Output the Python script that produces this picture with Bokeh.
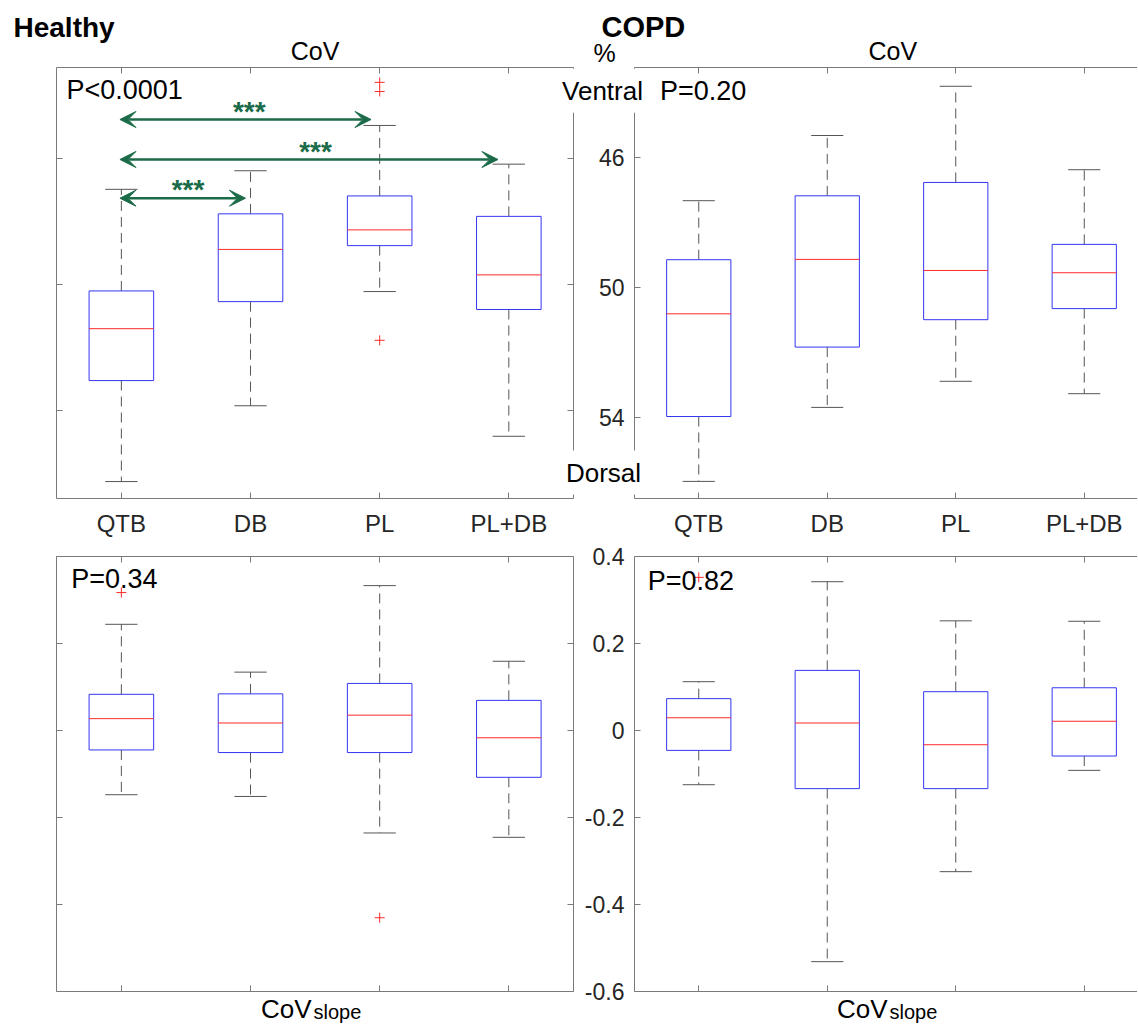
import numpy as np
from bokeh.plotting import figure
from bokeh.models import Range1d, FixedTicker, LinearAxis, Label, Arrow, VeeHead, Grid
from bokeh.layouts import column, row
from bokeh.embed import file_html
from bokeh.resources import INLINE

# ---------------- data ----------------
categories = ["QTB", "DB", "PL", "PL+DB"]

# Healthy, CoV (%)  (box statistics per category)
healthy_cov_min = [46.97, 46.38, 44.94, 46.17]
healthy_cov_q1 = [50.20, 47.75, 47.18, 47.83]
healthy_cov_med = [51.40, 48.88, 48.26, 49.69]
healthy_cov_q3 = [53.05, 50.54, 48.76, 50.79]
healthy_cov_max = [56.26, 53.85, 50.22, 54.82]
healthy_cov_out_cat = ["PL", "PL", "PL"]
healthy_cov_out_val = [43.57, 43.86, 51.77]

# COPD, CoV (%)
copd_cov_min = [47.34, 45.34, 43.83, 46.39]
copd_cov_q1 = [49.15, 47.19, 46.78, 48.68]
copd_cov_med = [50.81, 49.14, 49.48, 49.55]
copd_cov_q3 = [53.96, 51.83, 50.99, 50.65]
copd_cov_max = [55.95, 53.68, 52.88, 53.26]
copd_cov_out_cat = []
copd_cov_out_val = []

# Healthy, CoV slope
healthy_slope_min = [-0.148, -0.152, -0.236, -0.246]
healthy_slope_q1 = [-0.045, -0.051, -0.051, -0.108]
healthy_slope_med = [0.027, 0.017, 0.035, -0.017]
healthy_slope_q3 = [0.083, 0.084, 0.108, 0.069]
healthy_slope_max = [0.244, 0.134, 0.333, 0.159]
healthy_slope_out_cat = ["QTB", "PL"]
healthy_slope_out_val = [0.317, -0.431]

# COPD, CoV slope
copd_slope_min = [-0.125, -0.532, -0.325, -0.092]
copd_slope_q1 = [-0.046, -0.134, -0.134, -0.059]
copd_slope_med = [0.029, 0.017, -0.033, 0.021]
copd_slope_q3 = [0.073, 0.138, 0.089, 0.098]
copd_slope_max = [0.112, 0.342, 0.252, 0.251]
copd_slope_out_cat = ["QTB"]
copd_slope_out_val = [0.352]

p_values = ["P<0.0001", "P=0.20", "P=0.34", "P=0.82"]

sig_from = ["QTB", "QTB", "QTB"]
sig_to = ["PL", "PL+DB", "DB"]
sig_text = ["***", "***", "***"]

cov_ticks = [46, 50, 54]
cov_tick_labels = ["46", "50", "54"]
slope_ticks = [-0.6, -0.4, -0.2, 0, 0.2, 0.4]
slope_tick_labels = ["-0.6", "-0.4", "-0.2", "0", "0.2", "0.4"]

# ---------------- style ----------------
FONT = "Liberation Sans"
AX = "#7a7a7a"
TXT = "#262626"
BOX = "#3535f2"
MED = "#ff2a2a"
WHISK = "#555555"
GREEN = "#1b6b48"

cat_pos = list(range(1, len(categories) + 1))


def style_axis(ax, ticks, labels=None, size="23px", standoff=0):
    ax.ticker = FixedTicker(ticks=ticks, minor_ticks=[])
    ax.axis_line_color = AX
    ax.major_tick_line_color = AX
    ax.minor_tick_line_color = None
    ax.major_tick_in = 6
    ax.major_tick_out = 0
    ax.major_label_standoff = standoff
    ax.major_label_text_font = FONT
    ax.major_label_text_font_size = size
    if labels is not None:
        ax.major_label_overrides = dict(zip(ticks, labels))
        ax.major_label_text_color = TXT
    else:
        ax.major_label_text_color = None


def add_axis(p, side, loc, bounds, ticks, labels=None, size="23px", standoff=0):
    ax = LinearAxis(fixed_location=loc, bounds=bounds)
    style_axis(ax, ticks, labels, size, standoff)
    p.add_layout(ax, side)


def make_canvas(xr, yr, width, height, transparent):
    p = figure(width=width, height=height, x_range=Range1d(*xr), y_range=Range1d(*yr),
               output_backend="svg", toolbar_location=None, min_border=0,
               x_axis_location=None, y_axis_location=None)
    for g in p.select(type=Grid):
        g.visible = False
    p.outline_line_color = None
    if transparent:
        p.background_fill_alpha = 0
        p.border_fill_alpha = 0
    else:
        p.background_fill_color = "white"
        p.border_fill_color = "white"
    return p


def draw_boxes(p, vmin, q1, med, q3, vmax, out_cat, out_val):
    x = np.array(cat_pos, dtype=float)
    p.segment(x0=x, y0=q3, x1=x, y1=vmax, line_color=WHISK, line_width=1, line_dash="10 6")
    p.segment(x0=x, y0=q1, x1=x, y1=vmin, line_color=WHISK, line_width=1, line_dash="10 6")
    p.segment(x0=x - 0.125, y0=vmax, x1=x + 0.125, y1=vmax, line_color=WHISK, line_width=1)
    p.segment(x0=x - 0.125, y0=vmin, x1=x + 0.125, y1=vmin, line_color=WHISK, line_width=1)
    p.vbar(x=x, width=0.5, bottom=q1, top=q3, fill_color="white", line_color=BOX, line_width=1)
    p.segment(x0=x - 0.25, y0=med, x1=x + 0.25, y1=med, line_color=MED, line_width=1)
    if out_cat:
        ox = [categories.index(c) + 1 for c in out_cat]
        p.scatter(x=ox, y=out_val, marker="cross", size=10, line_color=MED, line_width=1)


def add_text(p, x, y, text, size, bold=False, align="left", color="black", bg=None):
    kw = {}
    if bg is not None:
        kw = dict(background_fill_color=bg, padding=7)
    p.add_layout(Label(x=x, y=y, text=text, text_font=FONT, text_font_size=f"{size}px",
                       text_font_style="bold" if bold else "normal", text_align=align,
                       text_baseline="alphabetic", text_color=color, **kw))


# ---------------- panels (each canvas is one full frame; box drawn with fixed axes) ----
# Healthy / CoV
tl = make_canvas((0.0641, 4.5627), (58.133, 40.968), 581, 540, False)
tl_box = (0.5, 4.5, 43.088, 56.80)
add_axis(tl, "left", tl_box[0], (tl_box[2], tl_box[3]), cov_ticks)
add_axis(tl, "right", tl_box[1], (tl_box[2], tl_box[3]), cov_ticks)
add_axis(tl, "above", tl_box[2], (tl_box[0], tl_box[1]), cat_pos)
add_axis(tl, "below", tl_box[3], (tl_box[0], tl_box[1]), cat_pos, categories, "24px", 11)

# COPD / CoV
tr = make_canvas((-0.1304, 4.4144), (57.763, 41.199), 584, 540, True)
tr_box = (0.5, 4.4144, 43.243, 56.475)
add_axis(tr, "left", tr_box[0], (tr_box[2], tr_box[3]), cov_ticks, cov_tick_labels, "23px", 10)
add_axis(tr, "above", tr_box[2], (tr_box[0], tr_box[1]), cat_pos)
add_axis(tr, "below", tr_box[3], (tr_box[0], tr_box[1]), cat_pos, categories, "24px", 11)

# Healthy / CoV slope
bl = make_canvas((0.0641, 4.5627), (-0.6812, 0.4368), 581, 486, False)
bl_box = (0.5, 4.5, -0.6, 0.4)
add_axis(bl, "left", bl_box[0], (bl_box[2], bl_box[3]), slope_ticks)
add_axis(bl, "right", bl_box[1], (bl_box[2], bl_box[3]), slope_ticks)
add_axis(bl, "above", bl_box[3], (bl_box[0], bl_box[1]), cat_pos)
add_axis(bl, "below", bl_box[2], (bl_box[0], bl_box[1]), cat_pos)

# COPD / CoV slope
br = make_canvas((-0.1304, 4.4144), (-0.6812, 0.4368), 584, 486, True)
br_box = (0.5, 4.4144, -0.6, 0.4)
add_axis(br, "left", br_box[0], (br_box[2], br_box[3]), slope_ticks, slope_tick_labels, "23px", 10)
add_axis(br, "above", br_box[3], (br_box[0], br_box[1]), cat_pos)
add_axis(br, "below", br_box[2], (br_box[0], br_box[1]), cat_pos)

draw_boxes(tl, healthy_cov_min, healthy_cov_q1, healthy_cov_med, healthy_cov_q3, healthy_cov_max,
           healthy_cov_out_cat, healthy_cov_out_val)
draw_boxes(tr, copd_cov_min, copd_cov_q1, copd_cov_med, copd_cov_q3, copd_cov_max,
           copd_cov_out_cat, copd_cov_out_val)
draw_boxes(bl, healthy_slope_min, healthy_slope_q1, healthy_slope_med, healthy_slope_q3, healthy_slope_max,
           healthy_slope_out_cat, healthy_slope_out_val)
draw_boxes(br, copd_slope_min, copd_slope_q1, copd_slope_med, copd_slope_q3, copd_slope_max,
           copd_slope_out_cat, copd_slope_out_val)

# significance arrows (healthy CoV)
arrow_levels = [44.751, 46.022, 47.252]
arrow_end_gap = [0.067, 0.084, 0.039]
star_x = [1.990, 2.503, 1.516]
star_levels = [44.506, 45.759, 46.976]
for a, b, t, ya, gap, xs, ys in zip(sig_from, sig_to, sig_text, arrow_levels,
                                    arrow_end_gap, star_x, star_levels):
    xa = categories.index(a) + 1 - 0.011
    xb = categories.index(b) + 1 - gap
    tl.add_layout(Arrow(start=VeeHead(size=16, fill_color=GREEN, line_color=GREEN),
                        end=VeeHead(size=16, fill_color=GREEN, line_color=GREEN),
                        x_start=xa, y_start=ya, x_end=xb, y_end=ya,
                        line_color=GREEN, line_width=2.5))
    add_text(tl, xs, ys, t, 28, bold=True, align="center", color=GREEN)

# titles and texts
add_text(tl, 0.1647, 41.826, "Healthy", 28, bold=True)
add_text(tl, 2.5, 42.567, "CoV", 25, align="center")
add_text(tl, 0.5751, 43.807, p_values[0], 27)

add_text(tr, 0.2432, 41.997, "COPD", 29, bold=True)
add_text(tr, 2.51, 42.754, "CoV", 25, align="center")
add_text(tr, 0.6977, 43.969, p_values[1], 27)
add_text(tr, 0.2665, 42.816, "%", 25, align="center")
add_text(tr, 0.251, 43.969, "Ventral", 26, align="center", bg="white")
add_text(tr, 0.2588, 55.678, "Dorsal", 26, align="center", bg="white")

add_text(bl, 0.6123, 0.3487, p_values[2], 27)
add_text(bl, 2.472, -0.641, "CoV", 26, align="right")
add_text(bl, 2.4876, -0.648, "slope", 20)

add_text(br, 0.6027, 0.3441, p_values[3], 27)
add_text(br, 2.469, -0.641, "CoV", 26, align="right")
add_text(br, 2.4844, -0.648, "slope", 20)

tr.margin = (0, 0, 0, -28)
br.margin = (0, 0, 0, -28)

layout = column(row(tl, tr), row(bl, br))

open("out.html", "w").write(file_html(layout, INLINE))
